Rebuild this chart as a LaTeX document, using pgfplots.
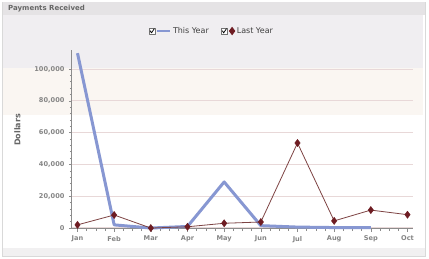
\documentclass[border=0pt]{standalone}
\usepackage{fontspec}
\setmainfont{DejaVu Sans}
\usepackage{pgfplots}
\pgfplotsset{compat=1.18}
\definecolor{thisyr}{HTML}{8797D2}
\definecolor{lastln}{HTML}{7E4444}
\definecolor{lastmk}{HTML}{6E1C22}
\definecolor{tickc}{HTML}{858585}
\definecolor{axc}{HTML}{8C8C8C}
\definecolor{gridc}{HTML}{E8D8D8}
\definecolor{bgA}{HTML}{F1F0F1}
\definecolor{bgB}{HTML}{FAF6F2}
\definecolor{bgC}{HTML}{F0EEF1}
\definecolor{bgT}{HTML}{E5E3E5}
\begin{document}
\begin{tikzpicture}
\fill[white] (0pt,0pt) rectangle (429pt,259pt);
\filldraw[fill=white, draw=black!15, line width=0.8pt] (2.5pt,2.5pt) rectangle (425.5pt,257pt);
\fill[bgA] (3pt,3pt) rectangle (425pt,11pt);
\fill[white] (3pt,11pt) rectangle (423pt,144pt);
\fill[bgB] (3pt,144pt) rectangle (423pt,191pt);
\fill[bgC] (3pt,191pt) rectangle (423pt,244pt);
\fill[bgT] (3pt,244pt) rectangle (425pt,256.5pt);
\node[anchor=west, font=\fontsize{7}{8}\selectfont\bfseries, text=black!60, inner sep=0pt] at (8pt,250.5pt) {Payments Received};
\begin{axis}[
  at={(72pt,30pt)}, anchor=south west,
  scale only axis, width=341pt, height=179pt,
  xmin=-0.15, xmax=9.15, ymin=-600, ymax=112000,
  axis x line*=bottom, axis y line*=left,
  axis line style={draw=axc, line width=1pt, -},
  xtick={0,...,9},
  xticklabels={Jan,Feb,Mar,Apr,May,Jun,Jul,Aug,Sep,Oct},
  minor x tick num=3,
  ytick={0,20000,40000,60000,80000,100000},
  minor y tick num=4,
  tick align=outside,
  major tick length=3pt, minor tick length=2pt,
  tick style={draw=axc, line width=0.6pt},
  ymajorgrids, grid style={draw=gridc, line width=1.1pt},
  scaled y ticks=false,
  /pgf/number format/fixed,
  /pgf/number format/precision=0,
  /pgf/number format/1000 sep={,},
  /pgf/number format/assume math mode=true,
  ticklabel style={font=\fontsize{6.6}{7}\selectfont\bfseries, text=tickc},
  yticklabel style={xshift=-1pt},
  xticklabel style={yshift=-0.5pt},
  ylabel={Dollars},
  ylabel style={at={(axis description cs:-0.16,0.553)}, anchor=center, font=\fontsize{8}{9}\selectfont\bfseries, text=black!60},
  legend columns=2,
  legend style={at={(axis description cs:0.41,1.106)}, anchor=center, draw=none, fill=none,
    font=\fontsize{8}{9}\selectfont, text=black!75, inner xsep=1pt,
    /tikz/every odd column/.append style={column sep=0pt},
    /tikz/every even column/.append style={column sep=10pt}},
  clip=false,
]
\addplot[color=thisyr, line width=3pt, line join=round,
  legend image code/.code={
    \draw[black!55, line width=0.5pt, fill=white] (-6pt,-3pt) rectangle (0.5pt,3.2pt);
    \draw[black, line width=0.8pt] (-4.8pt,0.3pt) -- (-3.4pt,-1.8pt) -- (-0.6pt,2.4pt);
    \draw[color=thisyr, line width=2.2pt] (2pt,0pt) -- (15pt,0pt);
  }] coordinates {
  (0,110000) (1,2000) (2,0) (3,1000) (4,29000) (5,1500) (6,600) (7,300) (8,300)
};
\addlegendentry{This Year}
\addplot[color=lastln, line width=0.8pt, mark=diamond*, mark size=3.6pt,
  mark options={fill=lastmk, draw=lastmk, line width=0.4pt},
  legend image code/.code={
    \draw[black!55, line width=0.5pt, fill=white] (-6pt,-3pt) rectangle (0.5pt,3.2pt);
    \draw[black, line width=0.8pt] (-4.8pt,0.3pt) -- (-3.4pt,-1.8pt) -- (-0.6pt,2.4pt);
    \draw[mark=diamond*, mark size=3.6pt, mark options={fill=lastmk, draw=lastmk}] plot coordinates {(5pt,0pt)};
  }] coordinates {
  (0,2000) (1,8200) (2,0) (3,800) (4,3000) (5,3800) (6,53500) (7,4500) (8,11300) (9,8400)
};
\addlegendentry{Last Year}
\end{axis}
\pgfresetboundingbox
\path (0pt,0pt) rectangle (429pt,259pt);
\end{tikzpicture}
\end{document}
